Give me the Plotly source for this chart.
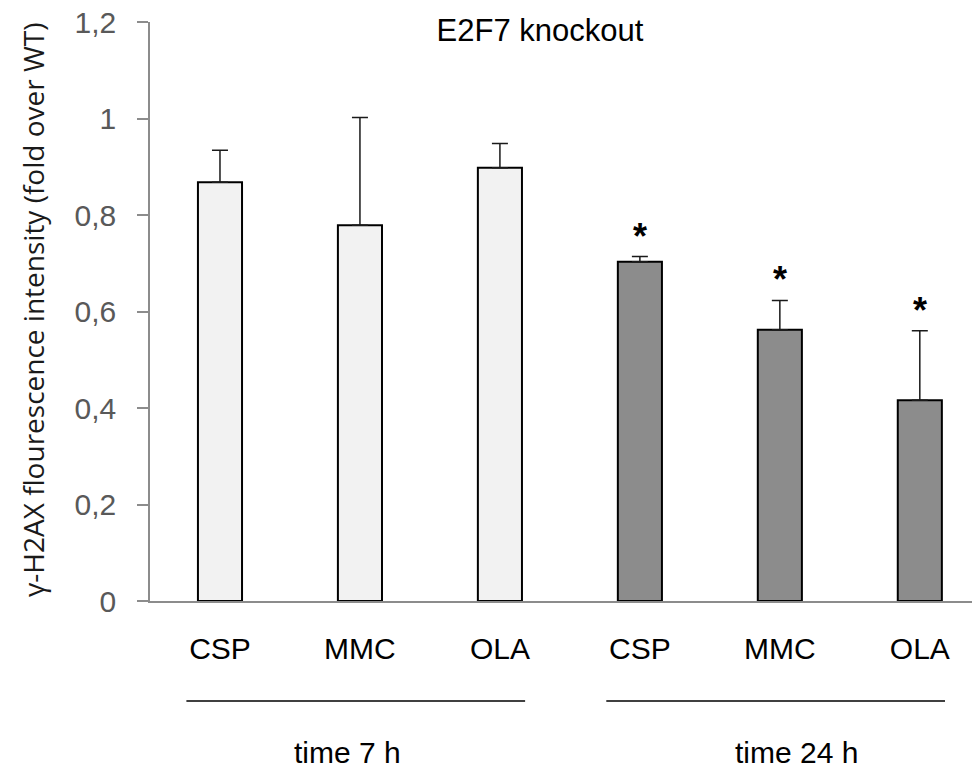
import plotly.graph_objects as go

# ---- data ----
categories = ["CSP 7h", "MMC 7h", "OLA 7h", "CSP 24h", "MMC 24h", "OLA 24h"]
tick_labels = ["CSP", "MMC", "OLA", "CSP", "MMC", "OLA"]
values = [0.868, 0.779, 0.898, 0.703, 0.562, 0.416]
errors_plus = [0.066, 0.223, 0.050, 0.011, 0.061, 0.144]
bar_colors = ["#f2f2f2", "#f2f2f2", "#f2f2f2", "#8c8c8c", "#8c8c8c", "#8c8c8c"]
significant = [False, False, False, True, True, True]
group_names = ["time 7 h", "time 24 h"]
group_members = [[0, 1, 2], [3, 4, 5]]
y_ticks = [0, 0.2, 0.4, 0.6, 0.8, 1.0, 1.2]
y_tick_text = ["0", "0,2", "0,4", "0,6", "0,8", "1", "1,2"]

FONT = "Liberation Sans, Arial, sans-serif"
# the page body adds an 8px offset, so the figure is 8px smaller
W, H = 972, 765

fig = go.Figure()
fig.add_trace(go.Bar(
    x=categories,
    y=values,
    marker=dict(color=bar_colors, line=dict(color="#000000", width=2)),
    error_y=dict(type="data", symmetric=False, array=errors_plus,
                 arrayminus=[0] * len(values), color="#1a1a1a",
                 thickness=1.5, width=8),
    width=0.315,
    showlegend=False,
))

# asterisks for significance
for i, (cat, v, e, s) in enumerate(zip(categories, values, errors_plus, significant)):
    if s:
        fig.add_annotation(x=cat, y=v + e, text="<b>*</b>", showarrow=False,
                           xref="x", yref="y", yanchor="bottom", yshift=-2,
                           font=dict(family=FONT, size=36, color="#000000"))

# group lines and labels
label_offsets = [-0.09, 0.12]
for name, members, off in zip(group_names, group_members, label_offsets):
    x0 = members[0] - 0.24
    x1 = members[-1] + 0.18
    fig.add_shape(type="line", xref="x", yref="paper", x0=x0, x1=x1,
                  y0=-0.1727, y1=-0.1727, line=dict(color="#000000", width=1.5))
    fig.add_annotation(x=(members[0] + members[-1]) / 2 + off, y=-0.262,
                       xref="x", yref="paper", text=name, showarrow=False,
                       yanchor="middle",
                       font=dict(family=FONT, size=30, color="#000000"))

# y-axis title as rotated annotation
fig.add_annotation(text="γ-H2AX flourescence intensity (fold over WT)",
                   textangle=-90, showarrow=False,
                   xref="paper", yref="paper", x=(33 - 150) / 830, y=0.5026,
                   xanchor="center", yanchor="middle",
                   font=dict(family="Open Sans, Liberation Sans, sans-serif",
                             size=28, color="#1a1a1a"))

fig.update_layout(
    template="none",
    width=W, height=H,
    margin=dict(l=142, r=0, t=14, b=172, autoexpand=False),
    plot_bgcolor="white", paper_bgcolor="white",
    title=dict(text="E2F7 knockout", x=(540 - 8) / W, xanchor="center",
               y=1 - (30 - 8) / H, yanchor="middle",
               font=dict(family=FONT, size=31, color="#000000")),
    xaxis=dict(type="category", range=[-0.5, 5.43], automargin=False,
               tickvals=categories, ticktext=tick_labels,
               showline=True, linecolor="#8c8c8c", linewidth=1.5,
               ticks="", showgrid=False, zeroline=False,
               ticklabelstandoff=20, ticklabeloverflow="allow",
               tickfont=dict(family=FONT, size=30, color="#000000")),
    yaxis=dict(range=[0, 1.2], automargin=False,
               tickmode="array", tickvals=y_ticks, ticktext=y_tick_text,
               showline=True, linecolor="#8c8c8c", linewidth=1.5,
               ticks="outside", ticklen=11, tickcolor="#8c8c8c", tickwidth=1.5,
               showgrid=False, zeroline=False,
               ticklabelstandoff=15, ticklabeloverflow="allow",
               tickfont=dict(family=FONT, size=30, color="#595959")),
)

fig.write_html("out.html")
